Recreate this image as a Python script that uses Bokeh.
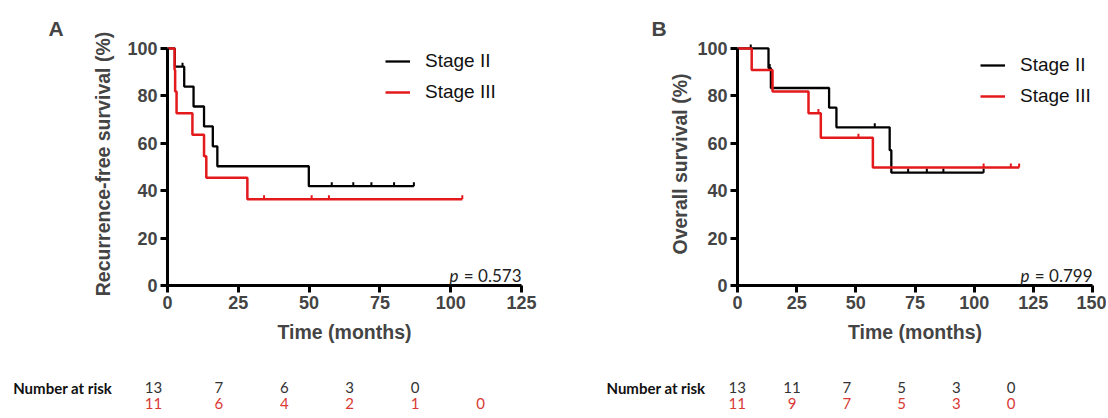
import math
from bokeh.plotting import figure
from bokeh.models import Range1d, FixedTicker, Label, Legend, LegendItem
from bokeh.layouts import row, column
from bokeh.embed import file_html
from bokeh.resources import INLINE
from bokeh.core.properties import value

# ---------------- data ----------------
# Panel A: recurrence-free survival (months, %)
rfs_s2_t = [0, 2.6, 5.9, 9.2, 12.9, 16.0, 17.6, 49.9, 87.0]
rfs_s2_s = [100, 92.3, 83.9, 75.5, 67.1, 58.7, 50.3, 41.9, 41.9]
rfs_s2_cens_t = [5.3, 58.0, 65.6, 72.0, 80.0, 87.0]
rfs_s2_cens_s = [92.3, 41.9, 41.9, 41.9, 41.9, 41.9]

rfs_s3_t = [0, 2.5, 2.7, 3.2, 8.8, 12.9, 13.7, 28.2, 104.1]
rfs_s3_s = [100, 90.9, 81.8, 72.7, 63.6, 54.5, 45.4, 36.4, 36.4]
rfs_s3_cens_t = [34.1, 50.9, 57.0, 104.1]
rfs_s3_cens_s = [36.4, 36.4, 36.4, 36.4]

# Panel B: overall survival (months, %)
os_s2_t = [0, 13.1, 14.1, 38.7, 41.8, 64.3, 65.0, 104.0]
os_s2_s = [100, 91.7, 83.3, 75.0, 66.7, 57.1, 47.6, 47.6]
os_s2_cens_t = [5.6, 13.6, 58.0, 72.1, 80.0, 87.0, 104.0]
os_s2_cens_s = [100, 91.7, 66.7, 47.6, 47.6, 47.6, 47.6]

os_s3_t = [0, 6.0, 14.8, 30.0, 35.2, 57.2, 119.0]
os_s3_s = [100, 90.9, 81.8, 72.7, 62.3, 49.8, 49.8]
os_s3_cens_t = [34.2, 51.1, 104.0, 115.5, 119.0]
os_s3_cens_s = [72.7, 62.3, 49.8, 49.8, 49.8]

# Number at risk
risk_times = [0, 25, 50, 75, 100, 125]
risk_A_s2 = ["13", "7", "6", "3", "0"]
risk_A_s3 = ["11", "6", "4", "2", "1", "0"]
risk_B_s2 = ["13", "11", "7", "5", "3", "0"]
risk_B_s3 = ["11", "9", "7", "5", "3", "0"]
risk_row_label = "Number at risk"

x_ticks_A = [0, 25, 50, 75, 100, 125]
x_ticks_B = [0, 25, 50, 75, 100, 125, 150]
y_ticks = [0, 20, 40, 60, 80, 100]

BLACK = "#000000"
RED = "#E3191C"
TXT_BLACK = "#333333"
TXT_RED = "#D93A35"
SANS = "Liberation Sans"
CAL = "Lato"
TICK_H = 1.7  # censor tick height (y units)
TOP_H = 345


def km_panel(width, border_left, border_right, xmax, xticks, ytitle, ystand,
             s2, s3, pval, letter, letter_px, legend_xy):
    p = figure(width=width, height=TOP_H, output_backend="svg", toolbar_location=None,
               x_range=Range1d(0, xmax), y_range=Range1d(0, 102.5),
               min_border_left=border_left, min_border_right=border_right,
               min_border_top=42, min_border_bottom=60)
    p.grid.visible = False
    p.outline_line_color = None
    p.background_fill_color = "white"
    p.border_fill_color = "white"

    p.title.text = letter
    p.title.align = "left"
    p.title.offset = letter_px - border_left
    p.title.text_font = SANS
    p.title.text_font_style = "bold"
    p.title.text_font_size = "21px"
    p.title.standoff = 6

    for ax, ticks, title, stand in ((p.xaxis[0], xticks, "Time (months)", 9),
                                    (p.yaxis[0], y_ticks, ytitle, ystand)):
        ax.ticker = FixedTicker(ticks=ticks)
        ax.bounds = (ticks[0], ticks[-1])
        ax.axis_line_width = 3
        ax.major_tick_line_width = 3
        ax.major_tick_out = 7
        ax.major_tick_in = 0
        ax.minor_tick_line_color = None
        ax.major_label_text_font = SANS
        ax.major_label_text_font_style = "bold"
        ax.major_label_text_font_size = "18px"
        ax.major_label_standoff = 3
        ax.axis_label = title
        ax.axis_label_text_font = SANS
        ax.axis_label_text_font_style = "bold"
        ax.axis_label_text_font_size = "19.5px"
        ax.axis_label_standoff = stand

    items = []
    for (t, s, ct, cs), color, name, lw in ((s2, BLACK, "Stage II", 2.3), (s3, RED, "Stage III", 2.5)):
        r = p.step(t, s, mode="after", line_color=color, line_width=lw)
        p.segment(x0=ct, y0=cs, x1=ct, y1=[v + TICK_H for v in cs],
                  line_color=color, line_width=2)
        mk = p.scatter(x=[], y=[], marker="dash", angle=math.pi / 2, size=7,
                       line_color=color, line_width=2)
        items.append(LegendItem(label=name, renderers=[r, mk]))

    leg = Legend(items=items, location=legend_xy, orientation="vertical",
                 glyph_width=25, glyph_height=20, label_height=20, label_standoff=15,
                 spacing=9, padding=0, margin=0, border_line_color=None,
                 background_fill_alpha=0, label_text_font=SANS,
                 label_text_font_size="19px", label_text_color="#111111")
    p.add_layout(leg)

    p.add_layout(Label(x=xmax, y=4.4, text="= " + pval, text_align="right",
                       text_baseline="alphabetic", text_font=CAL,
                       text_font_size="17px", text_color="#222222"))
    p.add_layout(Label(x=xmax, y=4.4, x_offset=-63, text="p", text_align="right",
                       text_baseline="alphabetic", text_font=CAL, text_font_style="italic",
                       text_font_size="17px", text_color="#222222"))
    return p


pA = km_panel(565, 167, 44, 125, x_ticks_A, "Recurrence-free survival (%)", 10,
              (rfs_s2_t, rfs_s2_s, rfs_s2_cens_t, rfs_s2_cens_s),
              (rfs_s3_t, rfs_s3_s, rfs_s3_cens_t, rfs_s3_cens_s),
              "0.573", "A", 48, (218, 182))
pB = km_panel(541, 172, 14, 150, x_ticks_B, "Overall survival (%)", 3,
              (os_s2_t, os_s2_s, os_s2_cens_t, os_s2_cens_s),
              (os_s3_t, os_s3_s, os_s3_cens_t, os_s3_cens_s),
              "0.799", "B", 651 - 565, (243, 178))

# ---------------- number-at-risk table (one full-width strip) ----------------
TW, TH = 1106, 72
A_zero, A_step = 153.0, 65.4      # px of time 0, px per 25 months (panel A table)
B_zero, B_step = 736.7, 54.8      # same for panel B table
a_scale, b_scale = A_step / 25.0, B_step / 25.0
ROW_STAGE2, ROW_STAGE3 = 1, 0

T = figure(width=TW, height=TH, output_backend="svg", toolbar_location=None,
           x_range=Range1d(0, TW), y_range=Range1d(-0.875, -0.875 + TH / 16.0),
           x_axis_type=None, y_axis_type=None, min_border=0)
T.extra_x_ranges = {
    "A": Range1d(-A_zero / a_scale, (TW - A_zero) / a_scale),
    "B": Range1d(-B_zero / b_scale, (TW - B_zero) / b_scale),
}
T.grid.visible = False
T.outline_line_color = None

for rng, s2, s3 in (("A", risk_A_s2, risk_A_s3), ("B", risk_B_s2, risk_B_s3)):
    T.text(x=risk_times[:len(s2)], y=[ROW_STAGE2] * len(s2), text=s2, x_range_name=rng,
           text_align="center", text_baseline="middle", text_font=value(CAL),
           text_font_size=value("15px"), text_color=TXT_BLACK)
    T.text(x=risk_times[:len(s3)], y=[ROW_STAGE3] * len(s3), text=s3, x_range_name=rng,
           text_align="center", text_baseline="middle", text_font=value(CAL),
           text_font_size=value("15px"), text_color=TXT_RED)

T.text(x=[12.7, 606.0], y=[ROW_STAGE2, ROW_STAGE2], text=[risk_row_label, risk_row_label],
       text_align="left", text_baseline="middle", text_font=value(CAL),
       text_font_style="bold", text_font_size=value("15px"), text_color="#111111")

layout = column(row(pA, pB), T)
open("out.html", "w").write(file_html(layout, INLINE))
